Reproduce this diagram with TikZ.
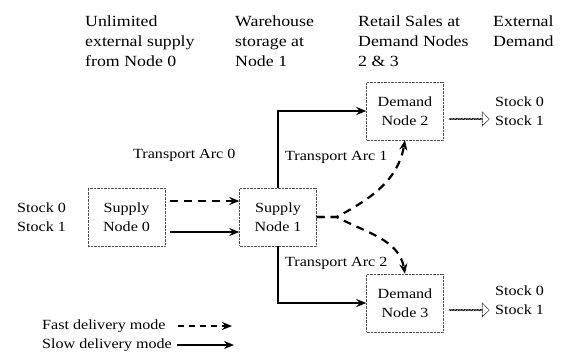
\documentclass[tikz,border=0pt]{standalone}
\usepackage{fontspec}
\setmainfont{Liberation Serif}[FakeStretch=1.15]
\usetikzlibrary{arrows.meta,shapes.arrows,positioning}

\begin{document}
\begin{tikzpicture}[x=1pt,y=-1pt,
  every node/.style={font=\fontsize{14}{19}\selectfont},
  nodebox/.style={draw=black!70,densely dotted,align=center,minimum width=77pt,minimum height=58pt,inner sep=2pt},
  txt/.style={align=left,anchor=west,inner sep=0pt},
  headtxt/.style={txt,font=\fontsize{15.5}{20}\selectfont},
  slow/.style={line width=2.2pt,-{Stealth[length=10pt,width=8pt]}},
  fast/.style={line width=2.2pt,dash pattern=on 8pt off 6pt,-{Stealth[length=10pt,width=8pt]}},
  hollow/.style={single arrow,draw=black,line width=0.6pt,dash pattern=on 1pt off 0.6pt,minimum height=40pt,minimum width=14pt,single arrow head extend=4pt,inner sep=0pt}]
\useasboundingbox (0,0) rectangle (561,363);

\node[headtxt] (head0) at (85,41) {Unlimited\\external supply\\from Node 0};
\node[headtxt] (head1) at (235,41) {Warehouse\\storage at\\Node 1};
\node[headtxt] (head2) at (358,41) {Retail Sales at\\Demand Nodes\\2 \& 3};
\node[headtxt] (head3) at (493,31) {External\\Demand};

\node[nodebox] (sup0) at (126.5,217) {Supply\\Node 0};
\node[nodebox] (sup1) at (278,217) {Supply\\Node 1};
\node[nodebox] (dem2) at (405,111) {Demand\\Node 2};
\node[nodebox] (dem3) at (405,303) {Demand\\Node 3};

\node[txt] (stockin) at (17,217) {Stock 0\\Stock 1};
\node[hollow] (out2) at (469,119) {};
\node[hollow] (out3) at (469,310) {};
\node[txt] (stock2) at (495,111) {Stock 0\\Stock 1};
\node[txt] (stock3) at (495,300) {Stock 0\\Stock 1};

\node[txt] (arc0) at (133,155) {Transport Arc 0};
\node[txt] (arc1) at (285,157) {Transport Arc 1};
\node[txt] (arc2) at (285,263) {Transport Arc 2};

\draw[fast,shorten <=5pt] ([yshift=16pt]sup0.east) -- ([yshift=16pt]sup1.west);
\draw[slow,shorten <=5pt] ([yshift=-15pt]sup0.east) -- ([yshift=-15pt]sup1.west);
\draw[slow] (sup1.north) |- (dem2.west);
\draw[slow] (sup1.south) |- (dem3.west);

\coordinate[right=20pt of sup1.east] (fork);
\draw[fast] (sup1.east) -- (fork) to[out=28,in=-100] (dem2.south);
\draw[fast] (sup1.east) -- (fork) to[out=-28,in=100] (dem3.north);

\node[txt] (legfast) at (42,326) {Fast delivery mode};
\node[txt] (legslow) at (42,345) {Slow delivery mode};
\coordinate (fastend) at (232,326);
\coordinate (slowend) at (234,345);
\draw[fast,line width=1.6pt,dash pattern=on 6pt off 5pt] ([xshift=12pt]legfast.east) -- (fastend);
\draw[slow,line width=1.6pt] ([xshift=5pt]legslow.east) -- (slowend);
\end{tikzpicture}
\end{document}
